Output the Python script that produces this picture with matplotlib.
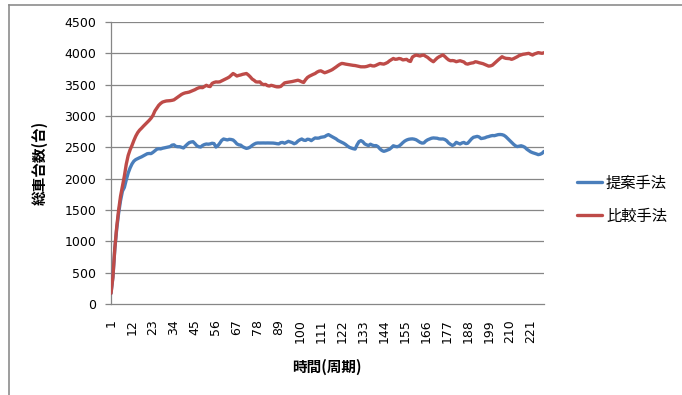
import matplotlib
matplotlib.use("Agg")
import matplotlib.pyplot as plt
from matplotlib.lines import Line2D
import numpy as np

# Total vehicle count per cycle for the two methods
proposed = [
    170, 430, 880, 1200, 1450, 1650, 1800, 1860, 1980, 2090,
    2170, 2235, 2280, 2305, 2320, 2335, 2348, 2365, 2380, 2398,
    2402, 2400, 2420, 2445, 2470, 2478, 2475, 2485, 2492, 2500,
    2505, 2512, 2535, 2540, 2515, 2510, 2510, 2500, 2490, 2520,
    2550, 2575, 2585, 2590, 2560, 2525, 2510, 2505, 2530, 2545,
    2553, 2550, 2555, 2565, 2560, 2505, 2525, 2565, 2610, 2633,
    2625, 2618, 2628, 2625, 2617, 2590, 2555, 2540, 2535, 2510,
    2495, 2483, 2490, 2505, 2530, 2550, 2565, 2570, 2569, 2570,
    2570, 2569, 2570, 2569, 2569, 2568, 2564, 2558, 2555, 2575,
    2578, 2565, 2580, 2596, 2585, 2575, 2558, 2570, 2600, 2620,
    2633, 2615, 2610, 2630, 2625, 2607, 2630, 2650, 2646, 2648,
    2660, 2665, 2670, 2690, 2703, 2685, 2668, 2652, 2635, 2610,
    2595, 2580, 2565, 2545, 2520, 2500, 2488, 2478, 2472, 2540,
    2590, 2607, 2590, 2555, 2540, 2528, 2550, 2535, 2526, 2528,
    2510, 2475, 2450, 2436, 2445, 2458, 2470, 2495, 2525, 2515,
    2510, 2520, 2545, 2575, 2600, 2617, 2628, 2633, 2635, 2630,
    2620, 2600, 2580, 2568, 2570, 2600, 2620, 2633, 2645, 2650,
    2648, 2645, 2635, 2633, 2634, 2625, 2605, 2570, 2548, 2530,
    2545, 2580, 2565, 2553, 2570, 2578, 2560, 2565, 2600, 2635,
    2660, 2668, 2675, 2665, 2640, 2645, 2652, 2665, 2672, 2682,
    2688, 2686, 2695, 2703, 2705, 2702, 2692, 2670, 2640, 2610,
    2582, 2550, 2525, 2512, 2518, 2525, 2515, 2500, 2470, 2450,
    2428, 2415, 2405, 2395, 2383, 2390, 2405, 2435,
]

comparison = [
    170, 430, 890, 1230, 1500, 1720, 1880, 2040, 2230, 2370,
    2460, 2530, 2610, 2680, 2735, 2775, 2805, 2838, 2868, 2900,
    2930, 2965, 3010, 3080, 3125, 3170, 3200, 3222, 3232, 3240,
    3242, 3245, 3250, 3258, 3280, 3300, 3325, 3345, 3360, 3370,
    3375, 3382, 3395, 3408, 3420, 3437, 3450, 3455, 3452, 3470,
    3490, 3475, 3470, 3520, 3535, 3544, 3542, 3545, 3560, 3575,
    3590, 3605, 3622, 3650, 3678, 3660, 3638, 3648, 3655, 3665,
    3672, 3678, 3655, 3625, 3590, 3570, 3545, 3542, 3545, 3515,
    3500, 3505, 3485, 3478, 3490, 3482, 3472, 3465, 3465, 3472,
    3500, 3528, 3535, 3540, 3544, 3550, 3557, 3565, 3571, 3560,
    3545, 3535, 3580, 3615, 3635, 3650, 3665, 3678, 3700, 3715,
    3721, 3705, 3690, 3700, 3712, 3725, 3740, 3760, 3782, 3805,
    3825, 3839, 3835, 3828, 3823, 3818, 3812, 3808, 3805, 3798,
    3790, 3785, 3785, 3785, 3790, 3800, 3810, 3800, 3798, 3810,
    3825, 3838, 3832, 3828, 3840, 3855, 3880, 3900, 3918, 3905,
    3908, 3918, 3912, 3895, 3900, 3904, 3880, 3870, 3940, 3960,
    3972, 3965, 3957, 3968, 3972, 3952, 3935, 3908, 3885, 3866,
    3895, 3925, 3945, 3960, 3975, 3950, 3920, 3895, 3882, 3885,
    3880, 3866, 3875, 3882, 3872, 3862, 3835, 3828, 3838, 3845,
    3850, 3866, 3860, 3850, 3842, 3835, 3822, 3810, 3796, 3800,
    3812, 3840, 3866, 3895, 3920, 3946, 3930, 3920, 3918, 3915,
    3904, 3915, 3930, 3946, 3965, 3975, 3985, 3989, 3995, 4000,
    3985, 3973, 3990, 4000, 4011, 4005, 4000, 4010,
]

cycles = np.arange(1, len(proposed) + 1)
x_tick_labels = [str(v) for v in range(1, 222, 11)]
y_ticks = list(range(0, 4501, 500))

series_names = ["提案手法", "比較手法"]
colors = ["#4A7EBB", "#BE4B48"]

cjk = ["Noto Sans CJK JP", "DejaVu Sans"]

W, H = 682, 395
fig = plt.figure(figsize=(W / 100, H / 100), dpi=100)
fig.patch.set_facecolor("white")

left, right, top, bottom = 111, 544, 22, 304
ax = fig.add_axes([left / W, 1 - bottom / H, (right - left) / W, (bottom - top) / H])

grid_color = "#868686"
for y in y_ticks[1:]:
    ax.axhline(y, color=grid_color, lw=0.9, zorder=1)

lines = []
for vals, c, name in zip([proposed, comparison], colors, series_names):
    ln, = ax.plot(cycles, vals, color=c, lw=2.4, solid_capstyle="round",
                  solid_joinstyle="round", label=name, zorder=3)
    lines.append(ln)

ax.set_xlim(1, len(proposed))
ax.set_ylim(0, 4500)
ax.set_yticks(y_ticks)
ax.set_yticklabels([str(v) for v in y_ticks])
ax.set_xticks([int(v) for v in x_tick_labels])
ax.set_xticklabels(x_tick_labels, rotation=90)

for s in ["top", "right"]:
    ax.spines[s].set_visible(False)
for s in ["left", "bottom"]:
    ax.spines[s].set_color(grid_color)
    ax.spines[s].set_linewidth(0.9)

ax.tick_params(axis="y", length=4.5, width=0.9, color=grid_color, pad=6,
               labelsize=9, labelcolor="black")
ax.tick_params(axis="x", length=0, pad=11, labelsize=9, labelcolor="black")

# Axis titles
fig.text(40 / W, 1 - 163 / H, "総車台数(台)", rotation=90, ha="center", va="center",
         fontsize=10.5, fontweight="bold", family=cjk)
fig.text(327 / W, 1 - 367 / H, "時間(周期)", ha="center", va="center",
         fontsize=10.5, fontweight="bold", family=cjk)

# Legend on the right
leg = fig.legend(handles=lines, labels=series_names, loc="center left",
                 bbox_to_anchor=(577 / W, 1 - 199.5 / H), bbox_transform=fig.transFigure,
                 frameon=False, borderaxespad=0, borderpad=0, handlelength=1.65,
                 handletextpad=0.25, labelspacing=1.05,
                 prop={"family": cjk, "size": 11})

# Chart area border (left and top edges)
fig.add_artist(Line2D([8.5 / W, 8.5 / W], [0, 1 - 4.5 / H], transform=fig.transFigure,
                      color="#8c8c8c", lw=1.2))
fig.add_artist(Line2D([8.5 / W, 1], [1 - 4.5 / H, 1 - 4.5 / H], transform=fig.transFigure,
                      color="#8c8c8c", lw=1.2))

fig.savefig("out.png", dpi=100, facecolor="white")
